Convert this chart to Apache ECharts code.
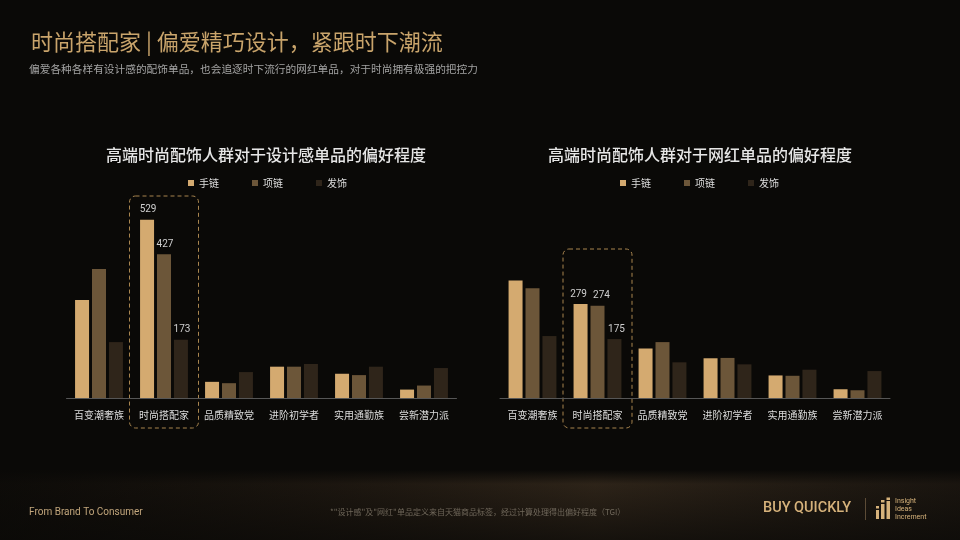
<!DOCTYPE html>
<html>
<head>
<meta charset="utf-8">
<script src="https://cdn.jsdelivr.net/npm/echarts@6/dist/echarts.min.js"></script>
<style>
html,body{margin:0;padding:0;background:#0a0907;}
#chart{width:960px;height:540px;}
</style>
</head>
<body>
<div id="chart"></div>
<script>
// ---- data ----
const categories = ['百变潮奢族', '时尚搭配家', '品质精致党', '进阶初学者', '实用通勤族', '尝新潜力派'];
const seriesNames = ['手链', '项链', '发饰'];
const designBracelet = [291, 529, 48, 93, 72, 25];
const designNecklace = [383, 427, 44, 93, 68, 37];
const designHair = [166, 173, 77, 101, 93, 89];
const influencerBracelet = [349, 279, 147, 118, 67, 26];
const influencerNecklace = [326, 274, 166, 119, 66, 23];
const influencerHair = [184, 175, 106, 100, 84, 80];
const highlightCategory = '时尚搭配家';
const chartTitles = ['高端时尚配饰人群对于设计感单品的偏好程度', '高端时尚配饰人群对于网红单品的偏好程度'];
const yMax = 588;

const colors = ['#d4aa70', '#6c5639', '#2f251a'];
const CJK = '"Noto Sans CJK SC", "Noto Sans", sans-serif';

const hiIdx = categories.indexOf(highlightCategory);
function withLabels(arr, offsetX) {
  return arr.map((v, i) => i === hiIdx ? { value: v, label: { show: true, offset: [offsetX, 0] } } : v);
}
function makeSeries(name, arr, gi, ci, offsetX) {
  return {
    name: name, type: 'bar', xAxisIndex: gi, yAxisIndex: gi,
    data: withLabels(arr, offsetX),
    barWidth: 14, barGap: '21%',
    itemStyle: { color: colors[ci] },
    label: { show: false, position: 'top', distance: 5, color: '#cfcfcf', fontSize: 10, fontFamily: 'Roboto, sans-serif' },
    emphasis: { disabled: true },
    animation: false
  };
}

const chart = echarts.init(document.getElementById('chart'), null, { renderer: 'canvas' });

const xAxisBase = {
  type: 'category', data: categories,
  axisLine: { lineStyle: { color: '#565656', width: 1 } },
  axisTick: { show: false },
  axisLabel: { color: '#dcdcdc', fontSize: 10, fontFamily: CJK, margin: 12, interval: 0 }
};
const yAxisBase = { type: 'value', min: 0, max: yMax, show: false, splitLine: { show: false } };

const legendBase = { data: seriesNames, top: 173, icon: 'rect', itemWidth: 6, itemHeight: 6, itemGap: 33,
  textStyle: { color: '#dedede', fontSize: 10, fontFamily: CJK }, selectedMode: false };

const option = {
  backgroundColor: '#0a0907',
  animation: false,
  title: [
    { text: '时尚搭配家 | 偏爱精巧设计，紧跟时下潮流', left: 26, top: 26,
      textStyle: { color: '#c9a46b', fontSize: 22, fontWeight: 'normal', fontFamily: CJK } },
    { text: '偏爱各种各样有设计感的配饰单品，也会追逐时下流行的网红单品，对于时尚拥有极强的把控力', left: 24, top: 59,
      textStyle: { color: '#a3a3a3', fontSize: 10.7, fontWeight: 'normal', fontFamily: CJK } },
    { text: chartTitles[0], left: 261, top: 142, textAlign: 'center',
      textStyle: { color: '#e6e6e6', fontSize: 16, fontWeight: 500, fontFamily: CJK } },
    { text: chartTitles[1], left: 695, top: 142, textAlign: 'center',
      textStyle: { color: '#e6e6e6', fontSize: 16, fontWeight: 500, fontFamily: CJK } }
  ],
  legend: [
    Object.assign({ left: 183 }, legendBase),
    Object.assign({ left: 615 }, legendBase)
  ],
  grid: [
    { left: 66.5, width: 390, top: 200, height: 198 },
    { left: 500, width: 390, top: 200, height: 198 }
  ],
  xAxis: [Object.assign({ gridIndex: 0 }, xAxisBase), Object.assign({ gridIndex: 1 }, xAxisBase)],
  yAxis: [Object.assign({ gridIndex: 0 }, yAxisBase), Object.assign({ gridIndex: 1 }, yAxisBase)],
  series: [
    makeSeries(seriesNames[0], designBracelet, 0, 0, 1),
    makeSeries(seriesNames[1], designNecklace, 0, 1, 1),
    makeSeries(seriesNames[2], designHair, 0, 2, 1),
    makeSeries(seriesNames[0], influencerBracelet, 1, 0, -2),
    makeSeries(seriesNames[1], influencerNecklace, 1, 1, 4),
    makeSeries(seriesNames[2], influencerHair, 1, 2, 2)
  ]
};
chart.setOption(option);

// decorations: footer, highlight boxes, logo
const c0 = chart.convertToPixel({ xAxisIndex: 0 }, highlightCategory);
const c1 = chart.convertToPixel({ xAxisIndex: 1 }, highlightCategory);
const boxW = 69;
const gold = '#d6b27b';
chart.setOption({
  graphic: [
    { type: 'rect', z: -10, silent: true, shape: { x: 0, y: 470, width: 960, height: 70 },
      style: { fill: { type: 'linear', x: 0, y: 0, x2: 1, y2: 0, colorStops: [
        { offset: 0, color: 'rgba(40,30,20,0.15)' }, { offset: 0.35, color: 'rgba(50,38,26,0.6)' },
        { offset: 0.62, color: 'rgba(62,48,33,0.9)' }, { offset: 1, color: 'rgba(45,35,25,0.6)' }] } } },
    { type: 'rect', z: -9, silent: true, shape: { x: 0, y: 470, width: 960, height: 70 },
      style: { fill: { type: 'linear', x: 0, y: 0, x2: 0, y2: 1, colorStops: [
        { offset: 0, color: 'rgba(10,9,7,1)' }, { offset: 0.2, color: 'rgba(10,9,7,0.25)' },
        { offset: 1, color: 'rgba(10,9,7,0.75)' }] } } },
    { type: 'rect', silent: true, shape: { x: c0 - boxW / 2, y: 196, width: boxW, height: 232, r: 6 },
      style: { fill: 'none', stroke: '#a8854f', lineWidth: 1, lineDash: [4, 3] } },
    { type: 'rect', silent: true, shape: { x: c1 - boxW / 2, y: 249, width: boxW, height: 179, r: 6 },
      style: { fill: 'none', stroke: '#a8854f', lineWidth: 1, lineDash: [4, 3] } },
    { type: 'text', silent: true, left: 29, top: 507,
      style: { text: 'From Brand To Consumer', fill: '#c2a67c', font: '10px Roboto, sans-serif' } },
    { type: 'text', silent: true, left: 330, top: 508,
      style: { text: '*"设计感"及"网红"单品定义来自天猫商品标签，经过计算处理得出偏好程度（TGI）', fill: '#6f675a', font: '8px "Noto Sans CJK SC", sans-serif' } },
    { type: 'text', silent: true, left: 763, top: 501,
      style: { text: 'BUY QUICKLY', fill: gold, font: '500 14.5px Roboto, sans-serif' } },
    { type: 'line', silent: true, shape: { x1: 865.5, y1: 498, x2: 865.5, y2: 520 }, style: { stroke: '#5c4b36', lineWidth: 1 } },
    { type: 'rect', silent: true, shape: { x: 876, y: 510, width: 3, height: 9 }, style: { fill: gold } },
    { type: 'rect', silent: true, shape: { x: 876, y: 506, width: 3, height: 2.5 }, style: { fill: gold } },
    { type: 'rect', silent: true, shape: { x: 881, y: 504, width: 3.5, height: 15 }, style: { fill: gold } },
    { type: 'rect', silent: true, shape: { x: 881, y: 500, width: 3.5, height: 2.5 }, style: { fill: gold } },
    { type: 'rect', silent: true, shape: { x: 886.5, y: 501, width: 3.5, height: 18 }, style: { fill: gold } },
    { type: 'rect', silent: true, shape: { x: 886.5, y: 497.5, width: 3.5, height: 2.5 }, style: { fill: gold } },
    { type: 'text', silent: true, left: 895, top: 497,
      style: { text: 'Insight\nIdeas\nIncrement', fill: gold, font: '7px Roboto, sans-serif', lineHeight: 8 } }
  ]
});
</script>
</body>
</html>
